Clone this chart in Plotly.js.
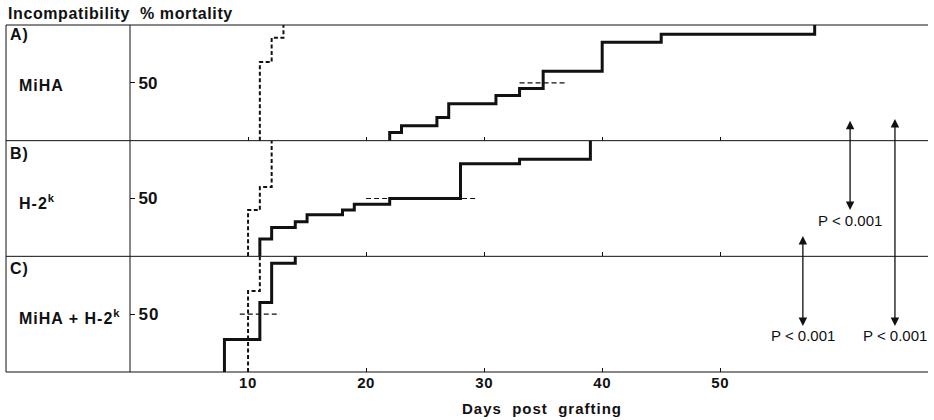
<!DOCTYPE html>
<html>
<head>
<meta charset="utf-8">
<script src="https://cdn.plot.ly/plotly-3.0.1.min.js"></script>
<style>
html,body{margin:0;padding:0;background:#fff;}
#chart{width:934px;height:420px;}
#chart .ytick text{letter-spacing:1px;}
#chart .xtick text{letter-spacing:0.6px;}
</style>
</head>
<body>
<div id="chart"></div>
<script>
// ---- Data (days post grafting, cumulative % mortality) ----
const panelLabels = ["A)", "B)", "C)"];
const groupNames = ["MiHA", "H-2<sup>k</sup>", "MiHA + H-2<sup>k</sup>"];
const xTickVals = [10, 20, 30, 40, 50];
const yTickVals = [50];

// Panel A: MiHA
const aSolidDays = [22, 22, 23, 26, 27, 31, 33, 35, 40, 45, 58];
const aSolidPct  = [0, 7, 13, 20, 32, 39, 45, 60, 85, 92, 100];
const aDashDays  = [11, 11, 12, 13];
const aDashPct   = [0, 68, 89, 100];
const aMedDays   = [33, 37];
const aMedPct    = [50, 50];

// Panel B: H-2k
const bSolidDays = [11, 11, 12, 14, 15, 18, 19, 22, 28, 33, 39];
const bSolidPct  = [0, 15, 25, 30, 36, 40, 45, 50, 80, 84, 100];
const bDashDays  = [10, 10, 11, 12];
const bDashPct   = [0, 40, 60, 100];
const bMedDays   = [20, 29.3];
const bMedPct    = [50, 50];

// Panel C: MiHA + H-2k
const cSolidDays = [8, 8, 11, 12, 14];
const cSolidPct  = [0, 28, 60, 94, 100];
const cDashDays  = [10, 10, 11];
const cDashPct   = [0, 70, 100];
const cMedDays   = [9.3, 12.7];
const cMedPct    = [50, 50];

// Significance arrows: day, top end (paper), label centre (paper)
const pLabel = "P < 0.001";
const arrowDays = [61, 64.8, 57];
const arrowTops = [0.724, 0.729, 0.392];
const pTextY    = [0.438, 0.104, 0.104];

// ---- Styling ----
const INK = "#111";
const FONT = "Liberation Sans, Arial, sans-serif";
const solidLine = {color: INK, width: 3, shape: "hv"};
const dashLine  = {color: INK, width: 2, shape: "hv", dash: "4px,2.5px"};
const medLine   = {color: INK, width: 1.2, dash: "5px,3px"};

function tr(x, y, line, xa, ya) {
  return {x: x, y: y, type: "scatter", mode: "lines", line: line,
          xaxis: xa, yaxis: ya, hoverinfo: "skip", showlegend: false};
}

const data = [
  tr(aSolidDays, aSolidPct, solidLine, "x3", "y3"),
  tr(aDashDays, aDashPct, dashLine, "x3", "y3"),
  tr(aMedDays, aMedPct, medLine, "x3", "y3"),
  tr(bSolidDays, bSolidPct, solidLine, "x2", "y2"),
  tr(bDashDays, bDashPct, dashLine, "x2", "y2"),
  tr(bMedDays, bMedPct, medLine, "x2", "y2"),
  tr(cSolidDays, cSolidPct, solidLine, "x", "y"),
  tr(cDashDays, cDashPct, dashLine, "x", "y"),
  tr(cMedDays, cMedPct, medLine, "x", "y")
];

const plotW = 798, plotH = 347, ml = 130, mt = 25;
const px = p => (p - ml) / plotW;          // pixel x -> paper x
const py = p => (mt + plotH - p) / plotH;  // pixel y -> paper y
const sp = (t, ls) => '<span style="letter-spacing:' + ls + 'px">' + t + '</span>';

const xBase = {range: [0, 67.6], tickvals: xTickVals, ticks: "inside", ticklen: 4,
  tickcolor: INK, tickwidth: 1, showline: false, showgrid: false, zeroline: false,
  fixedrange: true};
const yBase = {range: [0, 100], tickvals: yTickVals, ticks: "inside", ticklen: 5,
  tickcolor: INK, tickwidth: 1, ticklabelposition: "inside", ticklabelstandoff: 4,
  showline: false, showgrid: false, zeroline: false, fixedrange: true,
  tickfont: {family: FONT, size: 17, color: INK, weight: "bold"}};

const shapes = [];
[0, 1/3, 2/3, 1].forEach(v => shapes.push({type: "line", xref: "paper", yref: "paper",
  x0: px(6), x1: 1, y0: v, y1: v, line: {color: INK, width: 1}}));
shapes.push({type: "line", xref: "paper", yref: "paper", x0: 0, x1: 0, y0: 0, y1: 1,
  line: {color: INK, width: 1}});
shapes.push({type: "line", xref: "paper", yref: "paper", x0: px(6), x1: px(6), y0: 0, y1: 1,
  line: {color: INK, width: 1}});

const annotations = [];
const labY = [py(35), py(153), py(268)];
const nameY = [py(85), py(201.7), py(316.7)];
panelLabels.forEach((t, i) => annotations.push({text: sp(t, 1), xref: "paper", yref: "paper",
  x: px(8), y: labY[i], xanchor: "left", yanchor: "middle", showarrow: false,
  font: {family: FONT, size: 16, color: INK, weight: "bold"}}));
groupNames.forEach((t, i) => annotations.push({text: sp(t, 1), xref: "paper", yref: "paper",
  x: px(17), y: nameY[i], xanchor: "left", yanchor: "middle", showarrow: false,
  font: {family: FONT, size: 16, color: INK, weight: "bold"}}));
annotations.push({text: sp("Incompatibility&nbsp;&nbsp;% mortality", 0.6), xref: "paper", yref: "paper",
  x: px(6), y: py(13), xanchor: "left", yanchor: "middle", showarrow: false,
  font: {family: FONT, size: 16, color: INK, weight: "bold"}});
annotations.push({text: sp("Days&nbsp;&nbsp;post&nbsp;&nbsp;grafting", 1), xref: "paper", yref: "paper",
  x: px(542), y: py(408), xanchor: "center", yanchor: "middle", showarrow: false,
  font: {family: FONT, size: 15, color: INK, weight: "bold"}});
// each P label carries its own double-headed arrow up to the upper panel
arrowDays.forEach((d, i) => {
  annotations.push({text: pLabel, xref: "x", yref: "paper", x: d, y: arrowTops[i],
    axref: "x", ayref: "paper", ax: d, ay: pTextY[i], showarrow: true,
    arrowside: "end+start", arrowhead: 2, startarrowhead: 2, arrowsize: 1.3,
    startarrowsize: 1.3, arrowwidth: 1.3, arrowcolor: INK, standoff: 0, startstandoff: 0,
    font: {family: FONT, size: 15, color: INK}});
});

const layout = {
  width: 934, height: 420,
  margin: {l: ml, r: 934 - ml - plotW, t: mt, b: 420 - mt - plotH, pad: 0},
  paper_bgcolor: "#fff", plot_bgcolor: "rgba(0,0,0,0)",
  font: {family: FONT, size: 15, color: INK},
  showlegend: false,
  xaxis: Object.assign({}, xBase, {anchor: "y", showticklabels: true,
    tickfont: {family: FONT, size: 15, color: INK, weight: "bold"}}),
  xaxis2: Object.assign({}, xBase, {anchor: "y2", matches: "x", showticklabels: false}),
  xaxis3: Object.assign({}, xBase, {anchor: "y3", matches: "x", showticklabels: false}),
  yaxis: Object.assign({}, yBase, {domain: [0, 1/3], anchor: "x"}),
  yaxis2: Object.assign({}, yBase, {domain: [1/3, 2/3], anchor: "x2"}),
  yaxis3: Object.assign({}, yBase, {domain: [2/3, 1], anchor: "x3"}),
  shapes: shapes,
  annotations: annotations
};

Plotly.newPlot("chart", data, layout, {staticPlot: true, displayModeBar: false});
</script>
</body>
</html>
